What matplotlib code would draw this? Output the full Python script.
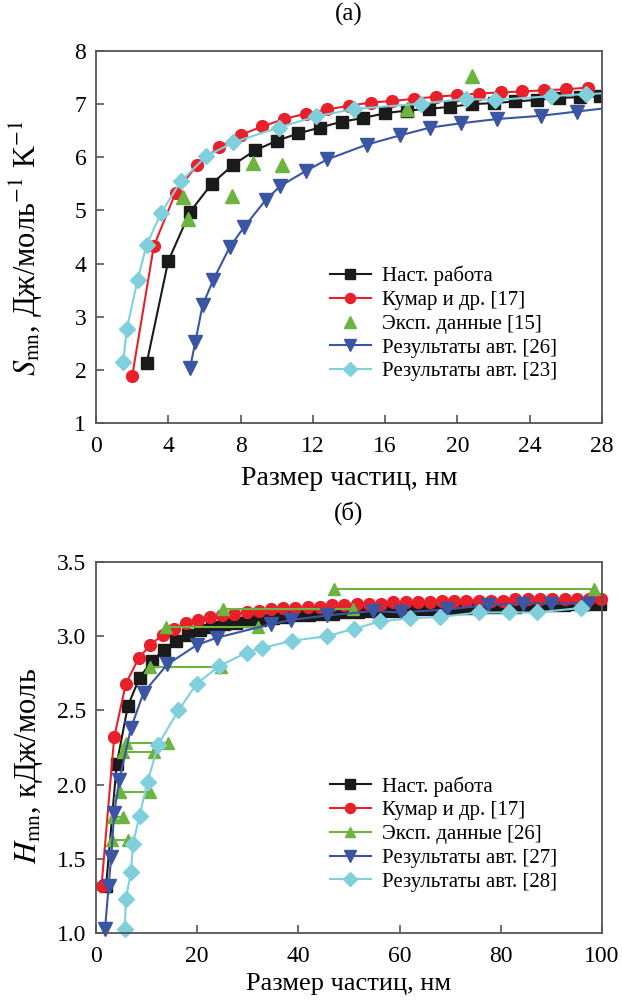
import matplotlib
matplotlib.use('Agg')
import matplotlib.pyplot as plt
import numpy as np

plt.rcParams['font.family'] = ['Liberation Serif', 'DejaVu Serif']
plt.rcParams['mathtext.fontset'] = 'stix'

# ---- panel (a): entropy ----
a_work_x = [2.8, 4.0, 5.2, 6.4, 7.6, 8.8, 10.0, 11.2, 12.4, 13.6, 14.8, 16.0, 17.2, 18.4,
            19.6, 20.8, 22.0, 23.2, 24.4, 25.6, 26.8, 27.9]
a_work_y = [2.12, 4.05, 4.97, 5.50, 5.86, 6.13, 6.31, 6.45, 6.56, 6.67, 6.74, 6.83, 6.88, 6.91,
            6.95, 7.00, 7.02, 7.05, 7.08, 7.12, 7.13, 7.15]

a_kumar_x = [2.0, 3.2, 4.4, 5.6, 6.8, 8.0, 9.2, 10.4, 11.6, 12.8, 14.0, 15.2, 16.4, 17.6,
             18.8, 20.0, 21.2, 22.4, 23.6, 24.8, 26.0, 27.2]
a_kumar_y = [1.88, 4.33, 5.33, 5.86, 6.19, 6.42, 6.58, 6.72, 6.82, 6.90, 6.97, 7.03, 7.06, 7.10,
             7.14, 7.17, 7.20, 7.22, 7.24, 7.26, 7.28, 7.31]

a_exp_x = [4.8, 5.1, 7.5, 8.7, 10.3, 17.2, 20.8]
a_exp_y = [5.25, 4.83, 5.28, 5.90, 5.86, 6.91, 7.53]

a_res26_x = [5.2, 5.5, 5.9, 6.5, 7.4, 8.2, 9.4, 10.2, 11.6, 12.8, 15.0, 16.8, 18.5, 20.2,
             22.2, 24.6, 26.6, 28.6]
a_res26_y = [2.03, 2.53, 3.22, 3.70, 4.31, 4.69, 5.20, 5.46, 5.74, 5.96, 6.24, 6.41, 6.56, 6.64,
             6.72, 6.78, 6.86, 6.94]

a_res23_x = [1.5, 1.7, 2.3, 2.8, 3.6, 4.7, 6.1, 7.6, 10.1, 12.2, 14.3, 18.0, 20.5, 22.1,
             25.2, 27.1, 28.6]
a_res23_y = [2.14, 2.76, 3.69, 4.35, 4.95, 5.55, 6.02, 6.28, 6.56, 6.77, 6.91, 7.01, 7.10, 7.08,
             7.15, 7.19, 7.21]

# ---- panel (б): enthalpy ----
b_work_x = [2.0, 4.1, 6.3, 8.6, 11.0, 13.5, 15.8, 18.2, 20.5, 22.9, 25.3, 27.7, 30.1, 32.5,
            34.9, 37.3, 39.7, 42.1, 44.5, 46.9, 49.3, 51.7, 54.1, 56.5, 58.9, 61.3, 63.7,
            66.1, 68.5, 70.9, 73.3, 75.7, 78.1, 80.5, 82.9, 85.3, 87.7, 90.1, 92.5, 94.9,
            97.3, 99.7]
b_work_y = [1.32, 2.14, 2.53, 2.72, 2.83, 2.91, 2.97, 3.01, 3.04, 3.06, 3.08, 3.09, 3.10, 3.11,
            3.12, 3.13, 3.14, 3.14, 3.15, 3.15, 3.16, 3.16, 3.17, 3.17, 3.17, 3.18, 3.18,
            3.18, 3.19, 3.19, 3.19, 3.20, 3.20, 3.20, 3.20, 3.21, 3.21, 3.21, 3.21, 3.22,
            3.22, 3.22]

b_kumar_x = [1.1, 3.6, 5.9, 8.4, 10.7, 13.2, 15.5, 17.8, 20.1, 22.5, 24.9, 27.3, 29.8, 32.2,
             34.6, 37.0, 39.4, 41.8, 44.3, 46.7, 49.1, 51.5, 53.9, 56.3, 58.7, 61.2, 63.6,
             66.0, 68.4, 70.8, 73.2, 75.7, 78.1, 80.5, 82.9, 85.3, 87.7, 90.1, 92.6, 95.0,
             97.4, 99.8]
b_kumar_y = [1.32, 2.32, 2.68, 2.85, 2.94, 3.01, 3.05, 3.09, 3.11, 3.13, 3.14, 3.15, 3.16, 3.17,
             3.18, 3.19, 3.19, 3.20, 3.20, 3.21, 3.21, 3.22, 3.22, 3.22, 3.23, 3.23, 3.23,
             3.23, 3.24, 3.24, 3.24, 3.24, 3.24, 3.24, 3.25, 3.25, 3.25, 3.25, 3.25, 3.25,
             3.25, 3.25]

# experimental data: horizontal pairs (start, end, level)
b_exp_x0 = [3.2, 3.4, 4.7, 5.4, 6.0, 10.7, 13.8, 25.1, 47.0]
b_exp_x1 = [6.4, 5.4, 10.6, 11.4, 14.3, 24.7, 32.1, 50.7, 98.5]
b_exp_y = [1.63, 1.78, 1.95, 2.22, 2.28, 2.79, 3.06, 3.18, 3.32]

b_res27_x = [1.8, 2.5, 3.0, 3.6, 4.6, 6.9, 9.4, 14.1, 19.9, 23.9, 34.5, 38.6, 45.7, 54.8,
             60.2, 69.3, 77.4, 84.3, 89.9, 97.3]
b_res27_y = [1.03, 1.32, 1.51, 1.81, 2.03, 2.38, 2.62, 2.81, 2.94, 2.99, 3.08, 3.11, 3.14, 3.17,
             3.16, 3.18, 3.21, 3.22, 3.22, 3.22]

b_res28_x = [5.7, 5.9, 6.9, 7.3, 8.6, 10.2, 12.3, 16.3, 19.9, 24.4, 29.8, 32.8, 38.8, 45.7,
             51.0, 56.2, 62.0, 68.0, 75.7, 81.7, 87.1, 95.8]
b_res28_y = [1.03, 1.23, 1.41, 1.60, 1.79, 2.02, 2.27, 2.50, 2.68, 2.80, 2.89, 2.92, 2.97, 3.00,
             3.05, 3.10, 3.12, 3.13, 3.16, 3.16, 3.16, 3.19]

BLACK = '#1a1a1a'
RED = '#e8202a'
GREEN = '#6cb33f'
BLUE = '#3b55a5'
CYAN = '#7fd0dc'
MS = 8.5
LW = 1.5

fig = plt.figure(figsize=(6.22, 10.01), dpi=100)
ax1 = fig.add_axes([96/622, 1 - 423/1001, 506/622, 372/1001])
ax2 = fig.add_axes([96/622, 1 - 933/1001, 506/622, 371/1001])

ax1.plot(a_work_x, a_work_y, '-s', color=BLACK, ms=MS - 0.5, lw=LW, label='Наст. работа')
ax1.plot(a_kumar_x, a_kumar_y, '-o', color=RED, ms=MS, lw=LW, label='Кумар и др. [17]')
ax1.plot(a_exp_x, a_exp_y, '^', color=GREEN, ms=MS + 1, ls='none', label='Эксп. данные [15]')
ax1.plot(a_res26_x, a_res26_y, '-v', color=BLUE, ms=MS + 1, lw=LW, label='Результаты авт. [26]')
ax1.plot(a_res23_x, a_res23_y, '-D', color=CYAN, ms=MS - 0.5, lw=LW, label='Результаты авт. [23]')

ax2.plot(b_work_x, b_work_y, '-s', color=BLACK, ms=MS - 0.5, lw=LW, label='Наст. работа',
         clip_on=False)
ax2.plot(b_kumar_x, b_kumar_y, '-o', color=RED, ms=MS, lw=LW, label='Кумар и др. [17]',
         clip_on=False)
for i in range(len(b_exp_y)):
    ax2.plot([b_exp_x0[i], b_exp_x1[i]], [b_exp_y[i], b_exp_y[i]], '-^', color=GREEN,
             ms=MS, lw=LW, clip_on=False,
             label='Эксп. данные [26]' if i == 0 else None)
ax2.plot(b_res27_x, b_res27_y, '-v', color=BLUE, ms=MS + 1, lw=LW, label='Результаты авт. [27]',
         clip_on=False)
ax2.plot(b_res28_x, b_res28_y, '-D', color=CYAN, ms=MS - 0.5, lw=LW, label='Результаты авт. [28]',
         clip_on=False)

for ax in (ax1, ax2):
    for s in ax.spines.values():
        s.set_color('#555555')
        s.set_linewidth(1.3)
    ax.tick_params(direction='in', length=6, width=1.2, color='#555555', labelsize=17,
                   top=False, right=False)
    ax.tick_params(axis='x', pad=9)
    ax.tick_params(axis='y', pad=7)

ax1.set_xlim(0, 28)
ax1.set_ylim(1, 8)
ax1.set_xticks(np.arange(0, 29, 4))
ax1.set_yticks(np.arange(1, 9, 1))
ax1.set_xlabel('Размер частиц, нм', fontsize=20)
ax1.set_ylabel(r'$S_{\rm mn}$, Дж/моль$^{-1}$ K$^{-1}$', fontsize=22)
ax1.xaxis.set_label_coords(0.5, -0.115)
ax1.yaxis.set_label_coords(-0.10, 0.47)

ax2.set_xlim(0, 100)
ax2.set_ylim(1.0, 3.5)
ax2.set_xticks(np.arange(0, 101, 20))
ax2.set_yticks(np.arange(1.0, 3.51, 0.5))
ax2.set_yticklabels(['1.0', '1.5', '2.0', '2.5', '3.0', '3.5'])
ax2.set_xlabel('Размер частиц, нм', fontsize=19)
ax2.set_ylabel(r'$H_{\rm mn}$, кДж/моль', fontsize=22)
ax2.xaxis.set_label_coords(0.5, -0.108)
ax2.yaxis.set_label_coords(-0.10, 0.45)

fig.text(349/622, 1 - 14/1001, '(a)', ha='center', va='center', fontsize=18)
fig.text(349/622, 1 - 513/1001, '(б)', ha='center', va='center', fontsize=18)

for ax in (ax1, ax2):
    ax.legend(loc='upper left', bbox_to_anchor=(0.445, 0.445), frameon=False, fontsize=15,
              handlelength=2.0, handletextpad=0.5, labelspacing=0.2, borderaxespad=0,
              markerscale=0.85)

fig.savefig('out.png', dpi=100)
